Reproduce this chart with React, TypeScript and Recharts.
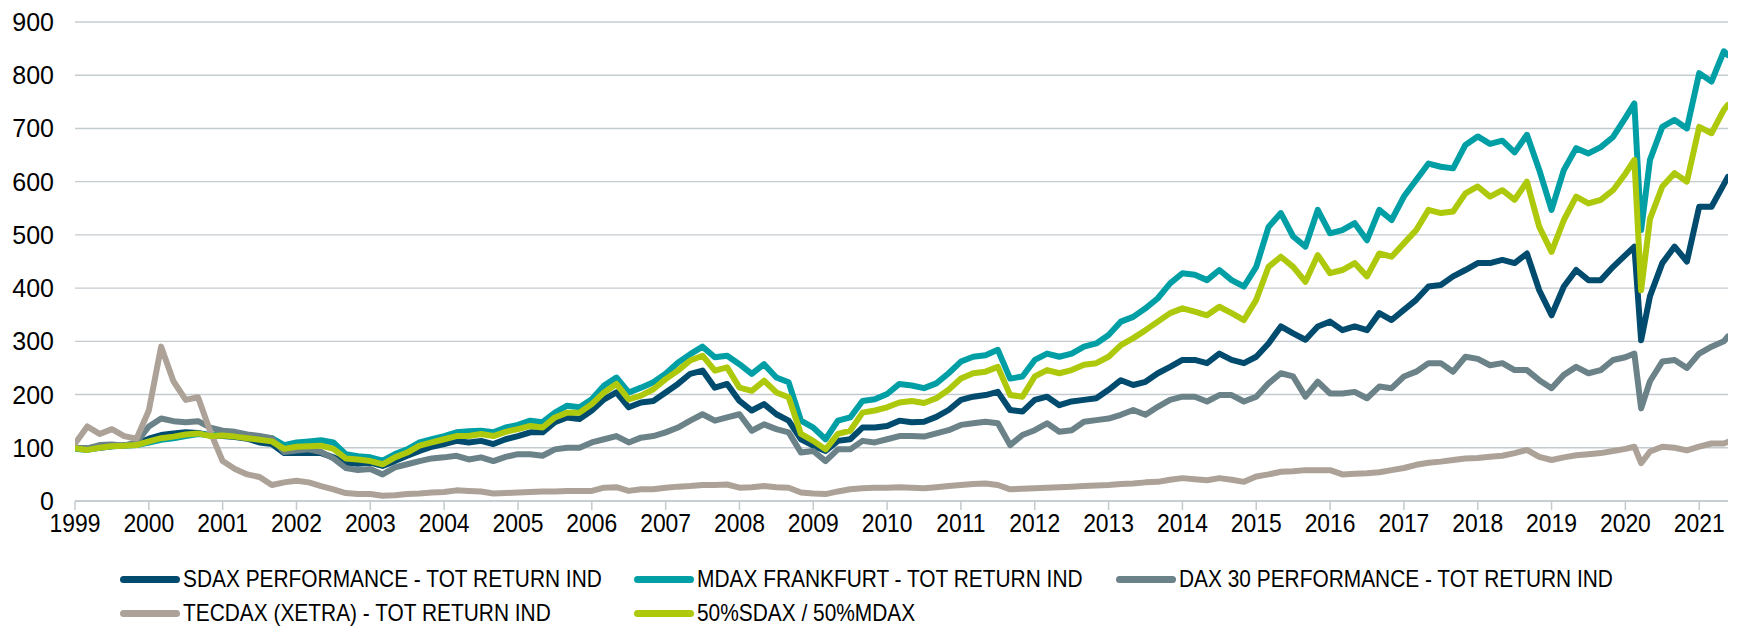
import { LineChart, Line, XAxis, YAxis, CartesianGrid, Legend } from 'recharts';

document.body.style.margin = '0';

// bimonthly sample dates, with two extra points around the March 2020 crash
const dates = [
    '1999-01', '1999-03', '1999-05', '1999-07', '1999-09', '1999-11',
    '2000-01', '2000-03', '2000-05', '2000-07', '2000-09', '2000-11',
    '2001-01', '2001-03', '2001-05', '2001-07', '2001-09', '2001-11',
    '2002-01', '2002-03', '2002-05', '2002-07', '2002-09', '2002-11',
    '2003-01', '2003-03', '2003-05', '2003-07', '2003-09', '2003-11',
    '2004-01', '2004-03', '2004-05', '2004-07', '2004-09', '2004-11',
    '2005-01', '2005-03', '2005-05', '2005-07', '2005-09', '2005-11',
    '2006-01', '2006-03', '2006-05', '2006-07', '2006-09', '2006-11',
    '2007-01', '2007-03', '2007-05', '2007-07', '2007-09', '2007-11',
    '2008-01', '2008-03', '2008-05', '2008-07', '2008-09', '2008-11',
    '2009-01', '2009-03', '2009-05', '2009-07', '2009-09', '2009-11',
    '2010-01', '2010-03', '2010-05', '2010-07', '2010-09', '2010-11',
    '2011-01', '2011-03', '2011-05', '2011-07', '2011-09', '2011-11',
    '2012-01', '2012-03', '2012-05', '2012-07', '2012-09', '2012-11',
    '2013-01', '2013-03', '2013-05', '2013-07', '2013-09', '2013-11',
    '2014-01', '2014-03', '2014-05', '2014-07', '2014-09', '2014-11',
    '2015-01', '2015-03', '2015-05', '2015-07', '2015-09', '2015-11',
    '2016-01', '2016-03', '2016-05', '2016-07', '2016-09', '2016-11',
    '2017-01', '2017-03', '2017-05', '2017-07', '2017-09', '2017-11',
    '2018-01', '2018-03', '2018-05', '2018-07', '2018-09', '2018-11',
    '2019-01', '2019-03', '2019-05', '2019-07', '2019-09', '2019-11',
    '2020-01', '2020-02-15', '2020-03-18', '2020-05', '2020-07', '2020-09', '2020-11',
    '2021-01', '2021-03', '2021-05', '2021-05-21',
];

const sdax = [
    100, 98, 100, 103, 105, 107,
    117, 124, 127, 129, 128, 123,
    122, 120, 117, 110, 107, 90,
    90, 90, 90, 82, 72, 70,
    72, 66, 75, 85, 94, 102,
    107, 113, 110, 113, 107, 116,
    122, 129, 129, 148, 157, 154,
    170, 191, 204, 176, 185, 188,
    204, 220, 239, 245, 213, 220,
    188, 170, 182, 163, 151, 116,
    104, 94, 113, 116, 138, 138,
    141, 151, 148, 149, 158, 171,
    190, 196, 199, 205, 171, 168,
    190, 196, 180, 187, 190, 193,
    209, 227, 218, 224, 240, 252,
    265, 265, 259, 277, 265, 259,
    271, 296, 328, 315, 303, 328,
    337, 321, 328, 321, 353, 340,
    359, 378, 403, 406, 422, 434,
    447, 447, 453, 447, 465, 396,
    349, 403, 434, 415, 415, 440,
    462, 478, 302, 385, 447, 478, 450,
    553, 553, 595, 609,
];

const mdax = [
    98, 96, 100, 103, 104, 105,
    110, 115, 118, 122, 126, 124,
    125, 124, 122, 120, 118, 105,
    110, 112, 114, 110, 88, 84,
    82, 76, 88, 97, 110, 116,
    122, 129, 131, 132, 129, 138,
    143, 151, 148, 166, 179, 176,
    191, 217, 232, 204, 213, 223,
    239, 260, 276, 290, 270, 273,
    257, 239, 257, 232, 223, 151,
    138, 116, 151, 157, 188, 191,
    201, 220, 217, 212, 221, 240,
    262, 271, 274, 284, 230, 234,
    265, 277, 271, 277, 290, 296,
    312, 337, 346, 362, 381, 409,
    428, 425, 415, 434, 415, 403,
    440, 515, 541, 497, 478, 547,
    503, 509, 522, 490, 547, 528,
    572, 603, 634, 628, 625, 669,
    685, 671, 677, 655, 688, 622,
    547, 622, 663, 653, 665, 684,
    720, 747, 509, 641, 703, 716, 700,
    804, 788, 845, 838,
];

const dax30 = [
    100, 99, 105, 106, 104, 110,
    140, 155, 150, 148, 150, 138,
    132, 130, 125, 122, 118, 92,
    95, 97, 92, 80, 62, 58,
    60, 50, 63, 69, 75, 80,
    82, 85, 78, 82, 75, 83,
    88, 88, 85, 97, 100, 100,
    110, 116, 122, 110, 119, 122,
    129, 138, 151, 163, 151, 157,
    163, 132, 144, 135, 129, 91,
    94, 75, 97, 97, 113, 110,
    116, 122, 122, 121, 127, 133,
    143, 146, 149, 146, 105, 124,
    133, 146, 130, 133, 149, 152,
    155, 162, 171, 162, 177, 190,
    196, 196, 187, 199, 199, 187,
    196, 221, 240, 234, 196, 224,
    202, 202, 205, 193, 215, 212,
    234, 243, 259, 259, 243, 271,
    267, 255, 259, 246, 246, 227,
    212, 237, 252, 240, 246, 265,
    270, 277, 174, 225, 262, 265, 250,
    277, 290, 300, 309,
];

const tecdax = [
    108, 140, 126, 135, 122, 117,
    170, 290, 225, 190, 195, 130,
    75, 60, 50, 45, 30, 35,
    38, 35, 28, 22, 15, 13,
    13, 10, 11, 13, 14, 16,
    17, 20, 19, 18, 14, 15,
    16, 17, 18, 18, 19, 19,
    19, 25, 26, 19, 22, 22,
    25, 27, 28, 30, 30, 31,
    25, 26, 28, 26, 25, 16,
    14, 13, 18, 22, 24, 25,
    25, 26, 25, 24, 26, 28,
    30, 32, 33, 30, 22, 23,
    24, 25, 26, 27, 28, 29,
    30, 32, 33, 35, 36, 40,
    43, 41, 39, 43, 40, 36,
    46, 50, 55, 56, 58, 58,
    58, 50, 51, 52, 54, 58,
    62, 68, 72, 74, 77, 80,
    81, 83, 85, 90, 96, 83,
    77, 82, 86, 88, 90, 94,
    98, 102, 71, 93, 102, 100, 95,
    102, 108, 108, 111,
];

const mix = [
    99, 96, 100, 103, 104, 105,
    112, 118, 121, 125, 127, 122,
    123, 121, 118, 115, 112, 98,
    102, 103, 104, 98, 80, 78,
    75, 69, 82, 91, 104, 110,
    116, 122, 122, 126, 122, 130,
    135, 141, 138, 157, 166, 166,
    182, 204, 220, 191, 198, 210,
    229, 245, 264, 273, 245, 251,
    213, 207, 226, 204, 195, 126,
    113, 97, 126, 132, 166, 170,
    176, 185, 188, 184, 193, 209,
    230, 240, 243, 252, 199, 196,
    234, 246, 240, 246, 256, 259,
    271, 293, 306, 321, 337, 353,
    362, 356, 349, 365, 353, 340,
    378, 440, 459, 440, 412, 462,
    428, 434, 447, 422, 465, 459,
    484, 509, 547, 541, 544, 578,
    591, 572, 584, 566, 600, 515,
    468, 528, 572, 559, 566, 584,
    615, 641, 396, 530, 591, 616, 600,
    703, 691, 735, 744,
];

const yearTicks = [
    1999, 2000, 2001, 2002, 2003, 2004, 2005, 2006, 2007, 2008, 2009, 2010,
    2011, 2012, 2013, 2014, 2015, 2016, 2017, 2018, 2019, 2020, 2021,
];
const valueTicks = [0, 100, 200, 300, 400, 500, 600, 700, 800, 900];

const series = [
    { id: 'sdax', name: 'SDAX PERFORMANCE - TOT RETURN IND', color: '#004b6e', values: sdax },
    { id: 'mdax', name: 'MDAX FRANKFURT - TOT RETURN IND', color: '#009fa5', values: mdax },
    { id: 'dax30', name: 'DAX 30 PERFORMANCE - TOT RETURN IND', color: '#6a8288', values: dax30 },
    { id: 'tecdax', name: 'TECDAX (XETRA) - TOT RETURN IND', color: '#ada298', values: tecdax },
    { id: 'mix', name: '50%SDAX / 50%MDAX', color: '#aec90c', values: mix },
];

// legend slots: [left, top] inside the legend box
const legendSlots: Record<string, [number, number]> = {
    sdax: [120, 10],
    mdax: [634, 10],
    dax30: [1116, 10],
    tecdax: [120, 44],
    mix: [634, 44],
};

const FONT = '"Liberation Sans", Arial, sans-serif';
const GRID = '#c3cbcf';

function toYear(d: string) {
    const [y, m, day] = d.split('-').map(Number);
    return y + (m - 1) / 12 + ((day || 1) - 1) / 365;
}

const chartData = dates.map((d, i) => {
    const row: Record<string, number> = { t: toYear(d) };
    for (const s of series) row[s.id] = s.values[i];
    return row;
});

function YearTick({ x, y, payload }: any) {
    return (
        <g transform={`translate(${x},${y})`}>
            <text x={0} y={19} textAnchor="middle" fontSize={26} fill="#000"
                fontFamily={FONT} transform="scale(0.88,1)">
                {payload.value}
            </text>
        </g>
    );
}

function ValueTick({ x, y, payload }: any) {
    return (
        <text x={x} y={y} dy={9} textAnchor="end" fontSize={25} fill="#000" fontFamily={FONT}>
            {payload.value}
        </text>
    );
}

function ChartLegend() {
    return (
        <div style={{ position: 'relative', width: 1738, height: 70, fontFamily: FONT }}>
            {series.map((s) => {
                const [left, top] = legendSlots[s.id];
                return (
                    <div key={s.id} style={{
                        position: 'absolute', left, top, height: 24, lineHeight: '24px',
                        display: 'flex', alignItems: 'center', whiteSpace: 'nowrap',
                    }}>
                        <span style={{ width: 60, height: 7, borderRadius: 4, background: s.color }} />
                        <span style={{
                            marginLeft: 3, fontSize: 24, color: '#000',
                            transform: 'scaleX(0.87)', transformOrigin: 'left center',
                        }}>
                            {s.name}
                        </span>
                    </div>
                );
            })}
        </div>
    );
}

export default function App() {
    return (
        <div style={{ width: 1738, height: 627, background: '#fff', overflow: 'hidden' }}>
            <LineChart width={1738} height={627} data={chartData}
                margin={{ top: 22, right: 10, bottom: 0, left: 0 }}>
                <CartesianGrid vertical={false} stroke={GRID} strokeWidth={1.4} />
                <XAxis
                    dataKey="t"
                    type="number"
                    domain={[1999, 2021.39]}
                    ticks={yearTicks}
                    interval={0}
                    height={126}
                    tickSize={9}
                    tickMargin={3}
                    axisLine={{ stroke: GRID, strokeWidth: 1.5 }}
                    tickLine={{ stroke: GRID, strokeWidth: 1.5 }}
                    tick={<YearTick />}
                    allowDataOverflow
                />
                <YAxis
                    domain={[0, 900]}
                    ticks={valueTicks}
                    width={75}
                    tickSize={0}
                    tickMargin={21}
                    axisLine={false}
                    tickLine={false}
                    tick={<ValueTick />}
                    interval={0}
                />
                <Legend
                    layout="horizontal"
                    align="center"
                    verticalAlign="middle"
                    wrapperStyle={{ left: 0, top: 557, width: 1738 }}
                    content={() => <ChartLegend />}
                />
                {series.map((s) => (
                    <Line
                        key={s.id}
                        type="linear"
                        dataKey={s.id}
                        name={s.name}
                        stroke={s.color}
                        strokeWidth={6}
                        strokeLinejoin="round"
                        strokeLinecap="round"
                        dot={false}
                        activeDot={false}
                        isAnimationActive={false}
                    />
                ))}
            </LineChart>
        </div>
    );
}
